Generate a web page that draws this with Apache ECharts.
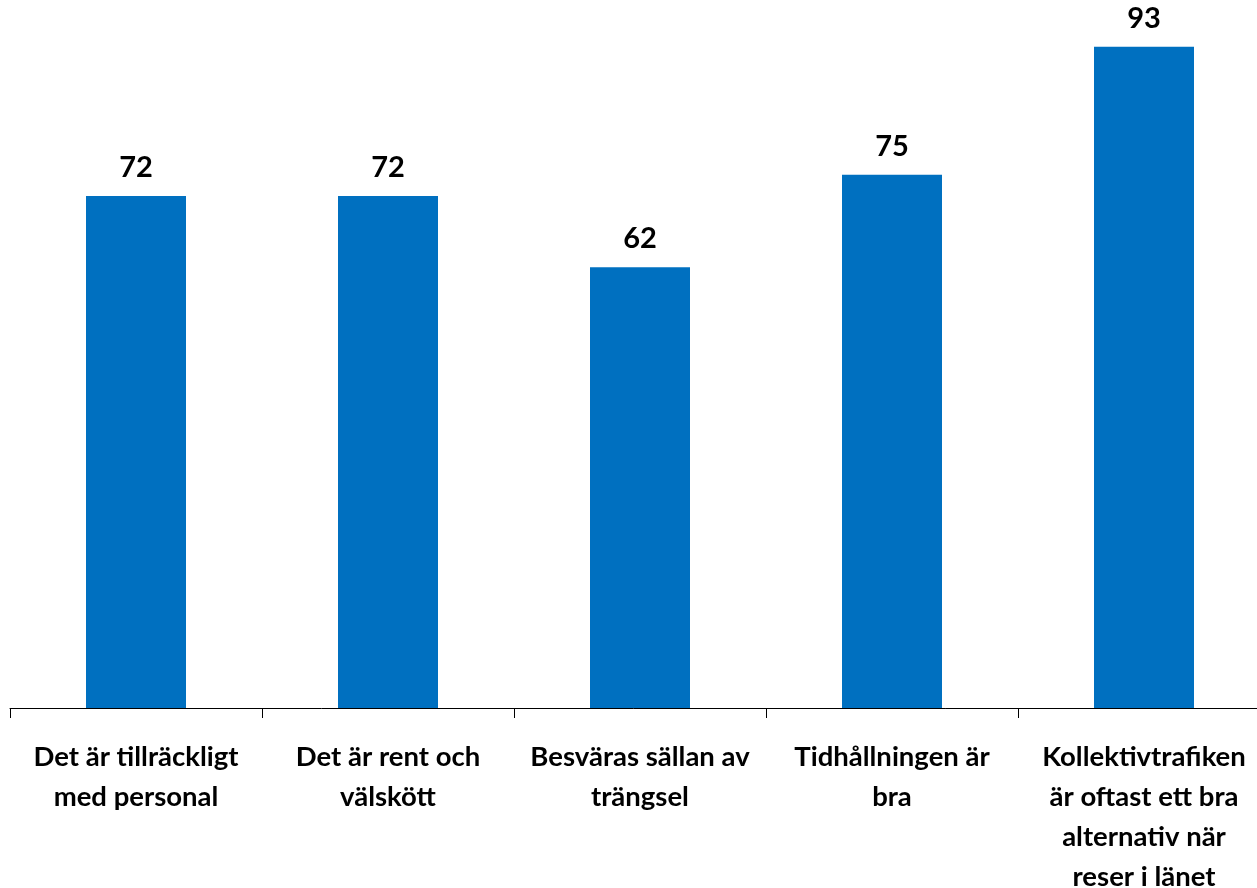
<!DOCTYPE html>
<html>
<head>
<meta charset="utf-8">
<script src="https://cdn.jsdelivr.net/npm/echarts@6/dist/echarts.min.js"></script>
<style>html,body{margin:0;padding:0;background:#fff}#c{width:1257px;height:888px}</style>
</head>
<body>
<div id="c"></div>
<script>
const categories = [
  "Det är tillräckligt\nmed personal",
  "Det är rent och\nvälskött",
  "Besväras sällan av\nträngsel",
  "Tidhållningen är\nbra",
  "Kollektivtrafiken\när oftast ett bra\nalternativ när\nreser i länet"
];
const values = [72, 72, 62, 75, 93];

const chart = echarts.init(document.getElementById('c'), null, {renderer: 'canvas'});
chart.setOption({
  animation: false,
  backgroundColor: '#ffffff',
  grid: {left: 10, width: 1260, top: -3, bottom: 180, containLabel: false, outerBoundsMode: 'none'},
  xAxis: {
    type: 'category',
    data: categories,
    axisLine: {lineStyle: {color: '#000', width: 1}},
    axisTick: {show: true, length: 10, lineStyle: {color: '#000'}},
    axisLabel: {
      interval: 0,
      margin: 29,
      color: '#000',
      fontFamily: 'Lato',
      fontWeight: 'bold',
      fontSize: 27.5,
      lineHeight: 40,
      align: 'center'
    }
  },
  yAxis: {
    type: 'value', min: 0, max: 100, show: false,
    splitLine: {show: false}
  },
  series: [{
    type: 'bar',
    data: values,
    barWidth: 100,
    itemStyle: {color: '#0070C0'},
    label: {
      show: true,
      position: 'top',
      distance: 14,
      color: '#000',
      fontFamily: 'Lato',
      fontWeight: 'bold',
      fontSize: 29
    }
  }]
});
</script>
</body>
</html>
